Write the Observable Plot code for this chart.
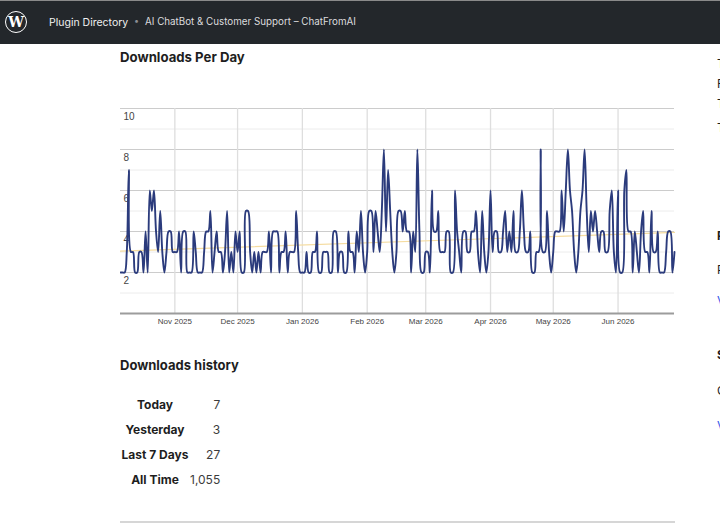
<!DOCTYPE html>
<html>
<head>
<meta charset="utf-8">
<script src="https://cdn.jsdelivr.net/npm/d3@7"></script>
<script src="https://cdn.jsdelivr.net/npm/@observablehq/plot@0.6"></script>
<style>
  html, body { margin:0; padding:0; background:#fff; }
  body { width:720px; height:528px; overflow:hidden; position:relative; font-family: Inter, "Noto Sans", sans-serif; color:#1e1e1e; }
  #header { position:absolute; left:0; top:0; width:720px; height:44px; background:#23272b; border-top:1px solid #8a8a8a; box-sizing:border-box; }
  #logo { position:absolute; left:5px; top:10px; width:20px; height:20px; border:1.6px solid #fff; border-radius:50%; color:#fff; font-family:"DejaVu Serif", serif; font-weight:bold; font-size:14px; line-height:20px; text-align:center; }
  #crumb1 { position:absolute; left:49px; top:15px; font-size:10.5px; color:#f0f0f0; white-space:nowrap; }
  #dot { position:absolute; left:134px; top:14px; font-size:9px; color:#8c8f94; }
  #crumb2 { position:absolute; left:145px; top:15px; font-size:9.8px; color:#dcdcde; white-space:nowrap; }
  h2 { margin:0; position:absolute; left:120px; font-weight:700; white-space:nowrap; }
  #chart { position:absolute; left:120px; top:100px; }
  table { position:absolute; left:120px; top:392px; border-collapse:collapse; font-size:12px; }
  th { font-weight:700; text-align:center; height:25px; padding:0; width:70px; white-space:nowrap; }
  td { text-align:right; height:25px; padding:0; width:30px; color:#3c3c3c; white-space:nowrap; }
  #hr { position:absolute; left:120px; top:521px; width:555px; height:2px; background:#d6d6d6; }
  .side { position:absolute; left:717px; font-size:12px; white-space:nowrap; color:#1e1e1e; }
</style>
</head>
<body>
<div id="header">
  <div id="logo">W</div>
  <div id="crumb1">Plugin Directory</div>
  <div id="dot">•</div>
  <div id="crumb2">AI ChatBot &amp; Customer Support – ChatFromAI</div>
</div>
<h2 style="top:49px;font-size:13.2px">Downloads Per Day</h2>
<div id="chart"></div>
<h2 style="top:357px;font-size:13px">Downloads history</h2>
<table id="hist"></table>
<div id="hr"></div>
<div class="side" style="top:56px">Tags</div>
<div class="side" style="top:76px">Rating</div>
<div class="side" style="top:96px">Tested</div>
<div class="side" style="top:120px">Tags</div>
<div class="side" style="top:228px;font-weight:700">Plugin</div>
<div class="side" style="top:262px">Plugin</div>
<div class="side" style="top:293px;color:#3858e9">View</div>
<div class="side" style="top:347px;font-weight:700">Support</div>
<div class="side" style="top:383px">Got</div>
<div class="side" style="top:418px;color:#3858e9">View</div>
<script>
const startDate = "2025-10-06";
const downloads = [
  2,2,2,3,7,3,3,2,2,3, 3,2,4,2,6,5,6,4,3,5,
  3,2,3,4,4,3,3,3,4,2, 4,4,2,2,2,4,3,2,2,2,
  3,4,4,5,2,3,4,3,3,2, 3,5,2,3,2,4,3,4,2,2,
  5,5,3,2,3,2,3,2,3,3, 3,4,2,4,4,4,2,3,3,4,
  2,3,3,3,5,3,2,2,2,3, 2,2,3,3,4,2,2,3,3,3,
  2,2,4,4,2,3,3,2,2,4, 3,3,2,4,3,5,3,2,3,5,
  5,3,5,4,3,5,8,4,7,5, 3,2,3,5,5,4,5,4,4,2,
  4,3,8,4,2,2,3,3,2,6, 4,4,5,3,3,3,4,4,2,2,
  6,4,3,2,4,4,3,3,4,4, 5,3,2,5,3,2,3,6,3,4,
  4,3,3,4,5,3,4,3,5,3, 3,4,6,4,3,3,4,2,2,3,
  3,8,3,3,5,3,2,3,4,4, 4,6,4,6,8,6,5,3,2,3,
  5,6,8,5,3,5,4,5,4,3, 4,4,3,3,5,6,3,2,6,2,
  2,6,7,4,4,2,4,3,2,4, 5,3,3,2,5,3,3,4,2,2,
  2,3,4,4,2,3
];
const monthTicks = ["2025-11-01","2025-12-01","2026-01-01","2026-02-01","2026-03-01","2026-04-01","2026-05-01","2026-06-01"];
const yTickValues = [2,4,6,8,10];
const majorGrid = [2,4,6,8,10];
const minorGrid = [1,3,5,7,9];
const historyLabels = ["Today","Yesterday","Last 7 Days","All Time"];
const historyValues = ["7","3","27","1,055"];

const start = new Date(startDate + "T00:00:00Z");
const data = downloads.map((v, i) => ({date: d3.utcDay.offset(start, i), value: v}));
const ticks = monthTicks.map(s => new Date(s + "T00:00:00Z"));
const x0 = data[0].date;

const chart = Plot.plot({
  width: 556, height: 233,
  marginLeft: 0, marginRight: 2, marginTop: 8, marginBottom: 20,
  x: {type: "utc", domain: [data[0].date, data[data.length - 1].date]},
  y: {domain: [0, 10], axis: null},
  style: {fontFamily: "'Liberation Sans', Arial, sans-serif", background: "transparent"},
  marks: [
    Plot.ruleY(minorGrid, {stroke: "#ececec"}),
    Plot.ruleY(majorGrid, {stroke: "#cccccc"}),
    Plot.ruleX(ticks, {stroke: "#dedede", strokeWidth: 1.3}),
    Plot.axisX({ticks, tickFormat: d3.utcFormat("%b %Y"), tickSize: 0, tickPadding: 5, fontSize: 8, fill: "#444"}),
    Plot.text(yTickValues, {x: () => x0, y: d => d, text: d => String(d), dx: 3, dy: 8, textAnchor: "start", fontSize: 10, fill: "#444"}),
    Plot.linearRegressionY(data, {x: "date", y: "value", ci: 0, stroke: "#f5dca0", strokeWidth: 1.2}),
    Plot.line(data, {x: "date", y: "value", curve: "catmull-rom", stroke: "#2b3b7c", strokeWidth: 1.9}),
    Plot.ruleY([0], {stroke: "#9c9c9c", strokeWidth: 2})
  ]
});
document.getElementById("chart").appendChild(chart);

const tbl = document.getElementById("hist");
historyLabels.forEach((l, i) => {
  const tr = document.createElement("tr");
  const th = document.createElement("th"); th.textContent = l;
  const td = document.createElement("td"); td.textContent = historyValues[i];
  tr.appendChild(th); tr.appendChild(td); tbl.appendChild(tr);
});
</script>
</body>
</html>
